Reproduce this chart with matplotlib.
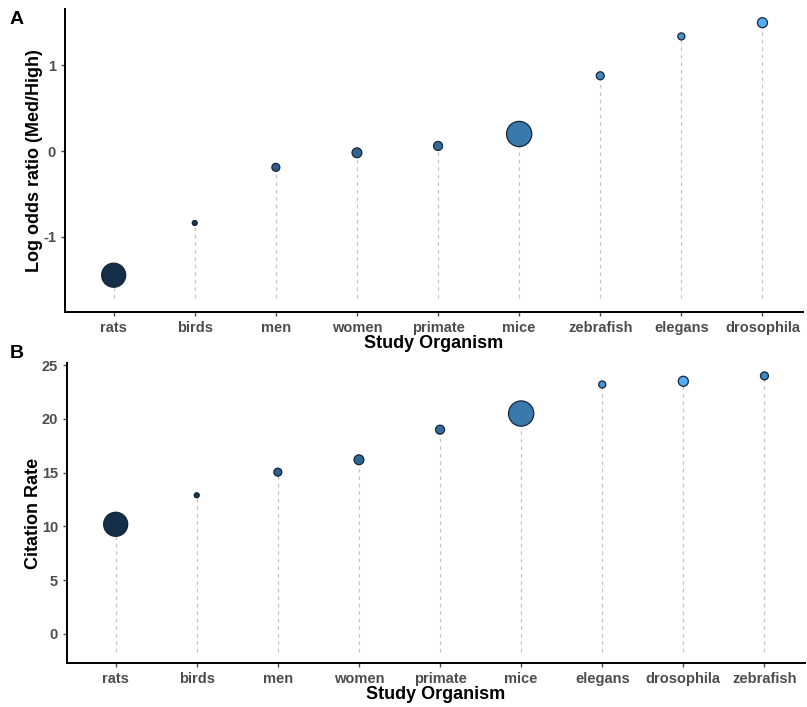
import matplotlib
matplotlib.use("Agg")
import matplotlib.pyplot as plt
from matplotlib.colors import LinearSegmentedColormap

plt.rcParams["font.family"] = ["Liberation Sans", "DejaVu Sans"]

# panel A: log odds ratio (Med/High) per organism
org_a = ["rats", "birds", "men", "women", "primate", "mice", "zebrafish", "elegans", "drosophila"]
logodds_a = [-1.45, -0.84, -0.19, -0.02, 0.06, 0.20, 0.88, 1.34, 1.50]

# panel B: citation rate per organism
org_b = ["rats", "birds", "men", "women", "primate", "mice", "elegans", "drosophila", "zebrafish"]
cite_b = [10.2, 12.9, 15.05, 16.2, 19.0, 20.5, 23.2, 23.5, 24.0]

# per-organism size weight and colour value (shared by both panels)
weight = {"rats": 300, "birds": 13, "men": 33, "women": 50, "primate": 42,
          "mice": 330, "zebrafish": 33, "elegans": 26, "drosophila": 52}
shade = {"rats": 0.02, "birds": 0.08, "men": 0.38, "women": 0.43, "primate": 0.48,
         "mice": 0.58, "zebrafish": 0.68, "elegans": 0.78, "drosophila": 0.97}

cmap = LinearSegmentedColormap.from_list("gg", ["#132B43", "#56B1F7"])
tick_col = "#4D4D4D"


def lollipop(ax, names, values, floor, ylim, yticks, ylabel):
    xs = range(len(names))
    for x, v in zip(xs, values):
        ax.plot([x, x], [floor, v], ls=(0, (3, 3)), color="#C4C4C4", lw=0.9, zorder=1)
    ax.scatter(list(xs), values, s=[weight[n] for n in names],
               c=[cmap(shade[n]) for n in names], edgecolors="#15263B",
               linewidths=0.9, zorder=3)
    ax.set_xlim(-0.6, 8.5)
    ax.set_ylim(*ylim)
    ax.set_xticks(list(xs))
    ax.set_xticklabels(names)
    ax.set_yticks(yticks)
    ax.set_yticklabels([str(t) for t in yticks])
    for s in ["top", "right"]:
        ax.spines[s].set_visible(False)
    for s in ["left", "bottom"]:
        ax.spines[s].set_linewidth(1.4)
    ax.tick_params(axis="both", length=3, width=1, color=tick_col, labelcolor=tick_col,
                   labelsize=10.5)
    for lab in ax.get_xticklabels() + ax.get_yticklabels():
        lab.set_fontweight("bold")
    ax.set_xlabel("Study Organism", fontsize=13, fontweight="bold", labelpad=0)
    ax.set_ylabel(ylabel, fontsize=13, fontweight="bold", labelpad=0)


fig = plt.figure(figsize=(8.07, 7.07), dpi=100)
W, H = 807, 707

ax_a = fig.add_axes([65 / W, 1 - 312 / H, (803 - 65) / W, (312 - 9) / H])
lollipop(ax_a, org_a, logodds_a, -1.72, (-1.88, 1.66), [-1, 0, 1],
         "Log odds ratio (Med/High)")

ax_b = fig.add_axes([67 / W, 1 - 663 / H, (805 - 67) / W, (663 - 363) / H])
lollipop(ax_b, org_b, cite_b, -1.7, (-2.7, 25.2), [0, 5, 10, 15, 20, 25],
         "Citation Rate")

fig.text(10 / W, 1 - 19 / H, "A", fontsize=14, fontweight="bold", va="center")
fig.text(10 / W, 1 - 353 / H, "B", fontsize=14, fontweight="bold", va="center")

fig.savefig("out.png", dpi=100)
